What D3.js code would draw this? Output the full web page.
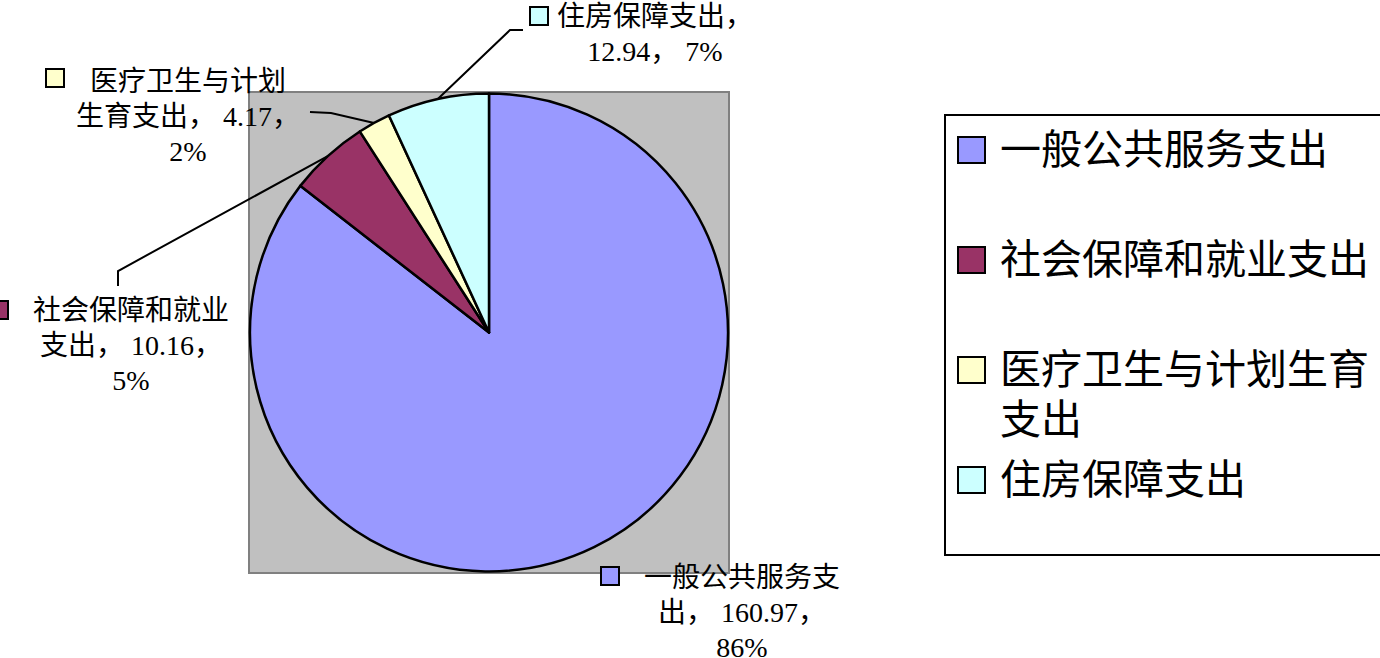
<!DOCTYPE html>
<html>
<head>
<meta charset="utf-8">
<script src="https://cdn.jsdelivr.net/npm/d3@7"></script>
<style>
  body { margin: 0; background: #fff; }
  text { font-family: "Liberation Serif", "Noto Sans CJK SC", sans-serif; fill: #000; }
</style>
</head>
<body>
<div id="chart"></div>
<script>
// data
const categories = ["一般公共服务支出", "社会保障和就业支出", "医疗卫生与计划生育支出", "住房保障支出"];
const values = [160.97, 10.16, 4.17, 12.94];
const colors = ["#9999FF", "#993366", "#FFFFCC", "#CCFFFF"];

const W = 1380, H = 658;
const svg = d3.select("#chart").append("svg")
    .attr("width", W)
    .attr("height", H);

// plot area (grey box)
const plot = { x: 249, y: 92, w: 480, h: 481 };
svg.append("rect")
    .attr("x", plot.x).attr("y", plot.y)
    .attr("width", plot.w).attr("height", plot.h)
    .attr("fill", "#C0C0C0")
    .attr("stroke", "#808080")
    .attr("stroke-width", 2);

const cx = plot.x + plot.w / 2, cy = plot.y + plot.h / 2;
const r = 239;

const total = d3.sum(values);
const items = categories.map((c, i) => ({ name: c, value: values[i], color: colors[i], pct: Math.round(values[i] / total * 100) }));

const pie = d3.pie().sort(null).value(d => d.value);
const arcs = pie(items);
const arc = d3.arc().innerRadius(0).outerRadius(r);

const g = svg.append("g").attr("transform", `translate(${cx},${cy})`);
g.selectAll("path")
    .data(arcs)
    .enter().append("path")
    .attr("d", arc)
    .attr("fill", d => d.data.color)
    .attr("stroke", "#000")
    .attr("stroke-width", 2.5)
    .attr("stroke-linejoin", "round");

// label layout: centre x, first line y, key square x, leader elbow points
const labelLayout = [
    { x: 742, y: 577, keyX: 601, keyY: 567, lead: null },
    { x: 131, y: 310, keyX: -10, keyY: 301, lead: [[118, 286], [118, 271]] },
    { x: 188, y: 81, keyX: 46, keyY: 69, lead: [[310, 112], [331, 113]] },
    { x: 655, y: 16, keyX: 530, keyY: 7, lead: [[523, 30], [510, 30]] }
];
const lineH = 35;

function labelLines(d) {
    const n = d.name;
    const first = n.slice(0, 7);
    const rest = n.slice(7);
    if (rest === "") return [first + "，", `${d.value}， ${d.pct}%`];
    return [first, `${rest}， ${d.value}，`, `${d.pct}%`];
}

const pointOnArc = a => {
    const m = (a.startAngle + a.endAngle) / 2;
    return [cx + r * Math.sin(m), cy - r * Math.cos(m)];
};

arcs.forEach((a, i) => {
    const L = labelLayout[i];
    // leader line
    if (L.lead) {
        svg.append("path")
            .attr("d", d3.line()([...L.lead, pointOnArc(a)]))
            .attr("fill", "none")
            .attr("stroke", "#000")
            .attr("stroke-width", 2);
    }
    const lines = labelLines(a.data);
    const t = svg.append("text")
        .attr("text-anchor", "middle")
        .attr("font-size", 28);
    lines.forEach((s, k) => {
        t.append("tspan")
            .attr("x", L.x)
            .attr("y", L.y + k * lineH)
            .attr("dominant-baseline", "central")
            .text(s);
    });
    svg.append("rect")
        .attr("x", L.keyX).attr("y", L.keyY)
        .attr("width", 18).attr("height", 18)
        .attr("fill", a.data.color)
        .attr("stroke", "#000")
        .attr("stroke-width", 2);
});

// legend
const legend = svg.append("g");
legend.append("rect")
    .attr("x", 945).attr("y", 115)
    .attr("width", 460).attr("height", 440)
    .attr("fill", "#fff")
    .attr("stroke", "#000")
    .attr("stroke-width", 2);

const legendFont = 41;
const legendMaxW = 378;
items.forEach((d, i) => {
    const y0 = 150 + i * 110;
    legend.append("rect")
        .attr("x", 958).attr("y", y0 - 13)
        .attr("width", 27).attr("height", 26)
        .attr("fill", d.color)
        .attr("stroke", "#000")
        .attr("stroke-width", 2);
    const t = legend.append("text")
        .attr("font-size", legendFont)
        .attr("font-family", "Noto Sans CJK SC");
    // wrap the name to the legend width
    let line = "", k = 0;
    let ts = t.append("tspan").attr("x", 1000).attr("y", y0).attr("dominant-baseline", "central");
    for (const ch of d.name) {
        ts.text(line + ch);
        if (ts.node().getComputedTextLength() > legendMaxW && line) {
            ts.text(line);
            k++;
            line = ch;
            ts = t.append("tspan").attr("x", 1000).attr("y", y0 + k * 50)
                .attr("dominant-baseline", "central").text(line);
        } else {
            line += ch;
        }
    }
});
</script>
</body>
</html>
